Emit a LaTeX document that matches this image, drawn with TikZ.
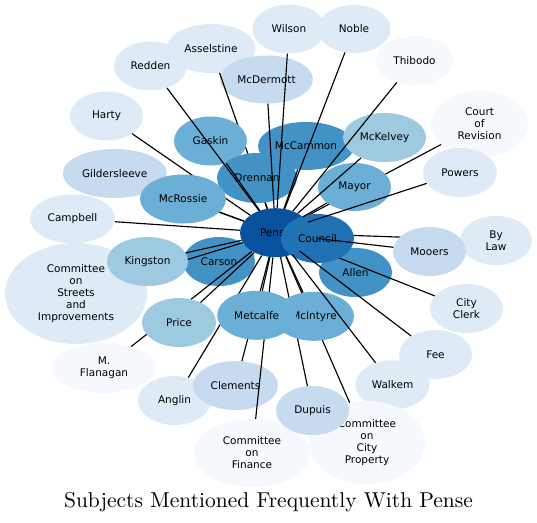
\documentclass[tikz,border=0pt]{standalone}
\usepackage{fontspec}
\newfontfamily\nodefont{DejaVu Sans}
\newfontfamily\titlefont{lmroman10-regular.otf}
\usetikzlibrary{shapes.geometric}
\definecolor{cD}{HTML}{08519C}
\definecolor{cK}{HTML}{2171B5}
\definecolor{cF}{HTML}{4292C6}
\definecolor{cM}{HTML}{6BAED6}
\definecolor{cS}{HTML}{9ECAE1}
\definecolor{cC}{HTML}{C6DBEF}
\definecolor{cL}{HTML}{DEEBF7}
\definecolor{cV}{HTML}{F5F9FE}
\tikzset{
  nd/.style={ellipse, inner sep=0pt, draw=none, align=center, text=black,
    font=\nodefont\fontsize{10.5}{12}\selectfont},
  sz/.style 2 args={minimum width=#1pt, minimum height=#2pt},
  ed/.style={draw=black, line width=1.15pt}
}
\begin{document}
\begin{tikzpicture}[x=1pt,y=-1pt]
\useasboundingbox (0,0) rectangle (537,522);
% ---- background / outer nodes
\node[nd, sz={72}{49}, fill=cL] (bylaw) at (496,240.5) {By\\Law};
\node[nd, sz={97}{66}, fill=cV] (court) at (479.5,124) {Court\\of\\Revision};
\node[nd, sz={74}{49}, fill=cL] (powers) at (460,172.5) {Powers};
\node[nd, sz={77}{49}, fill=cV] (thibodo) at (414.5,60.5) {Thibodo};
\node[nd, sz={73}{49}, fill=cL] (wilson) at (289,29) {Wilson};
\node[nd, sz={73}{48}, fill=cL] (noble) at (354,29) {Noble};
\node[nd, sz={73}{49}, fill=cL] (redden) at (150.5,66) {Redden};
\node[nd, sz={89}{49}, fill=cL] (asselstine) at (211,48.5) {Asselstine};
\node[nd, sz={93}{48}, fill=cC] (mcdermott) at (266.5,79.5) {McDermott};
\node[nd, sz={73}{49}, fill=cL] (harty) at (106.5,116) {Harty};
\node[nd, sz={104}{49}, fill=cC] (gildersleeve) at (114.7,173.5) {Gildersleeve};
\node[nd, sz={85}{49}, fill=cL] (campbell) at (72.5,218.8) {Campbell};
\node[nd, sz={142}{101}, fill=cL] (streets) at (76,293.5) {Committee\\on\\Streets\\and\\Improvements};
\node[nd, sz={104}{50}, fill=cV] (flanagan) at (104,368) {M.\\Flanagan};
\node[nd, sz={73}{49}, fill=cL] (fee) at (435.5,354.5) {Fee};
\node[nd, sz={74}{49}, fill=cL] (walkem) at (392.5,384.8) {Walkem};
\node[nd, sz={73}{49}, fill=cL] (cityclerk) at (466.5,308.5) {City\\Clerk};
\node[nd, sz={116}{83}, fill=cV] (property) at (367,442.5) {Committee\\on\\City\\Property};
\node[nd, sz={116}{68}, fill=cV] (finance) at (252,453) {Committee\\on\\Finance};
\node[nd, sz={73}{49}, fill=cC] (dupuis) at (312.5,410.5) {Dupuis};
\node[nd, sz={73}{49}, fill=cL] (anglin) at (174.5,400.5) {Anglin};
\node[nd, sz={85}{49}, fill=cC] (clements) at (235.5,385.5) {Clements};
\node[nd, sz={96}{48}, fill=cF] (mccammon) at (306,146) {McCammon};
\node[nd, sz={83}{49}, fill=cS] (mckelvey) at (384.5,137.5) {McKelvey};
\node[nd, sz={73}{49}, fill=cF] (allen) at (355.5,272.5) {Allen};
\node[nd, sz={72}{49}, fill=cF] (carson) at (219,261.5) {Carson};
\node[nd, sz={71}{49}, fill=cD] (pense) at (275.5,232.7) {Pense};
% ---- edges partly hidden by nodes drawn after them
\draw[ed] (asselstine) -- (pense);
\draw[ed] (harty) -- (pense);
\draw[ed] (gildersleeve) -- (pense);
\draw[ed] (court) -- (pense);
\draw[ed] (streets) -- (pense);
\draw[ed] (flanagan) -- (pense);
\draw[ed] (bylaw) -- (pense);
\draw[ed] (cityclerk) -- (pense);
\draw[ed] (finance) -- (pense);
\draw[ed] (clements) -- (pense);
\draw[ed] (anglin) -- (pense);
\draw[ed] (dupuis) -- (pense);
\draw[ed] (property) -- (pense);
% ---- nodes that cover those edges
\node[nd, sz={73}{49}, fill=cM] (gaskin) at (210.5,141) {Gaskin};
\node[nd, sz={80}{50}, fill=cF] (drennan) at (257,178) {Drennan};
\node[nd, sz={86}{49}, fill=cM] (mcrossie) at (183,199) {McRossie};
\node[nd, sz={73}{48}, fill=cM] (mayor) at (354.5,187) {Mayor};
\node[nd, sz={81}{49}, fill=cS] (kingston) at (147.5,261.5) {Kingston};
\node[nd, sz={74}{49}, fill=cS] (price) at (179,322.5) {Price};
\node[nd, sz={73}{49}, fill=cC] (mooers) at (429.5,251.5) {Mooers};
\node[nd, sz={80}{49}, fill=cM] (mcintyre) at (314,316.3) {McIntyre};
\node[nd, sz={79}{49}, fill=cM] (metcalfe) at (256.7,315.3) {Metcalfe};
\node[nd, sz={73}{49}, fill=cK] (council) at (317.5,238.5) {Council};
% ---- edges drawn on top
\draw[ed] (redden) -- (pense);
\draw[ed] (gaskin) -- (pense);
\draw[ed] (drennan) -- (pense);
\draw[ed] (wilson) -- (pense);
\draw[ed] (noble) -- (pense);
\draw[ed] (mcdermott) -- (pense);
\draw[ed] (thibodo) -- (pense);
\draw[ed] (mccammon) -- (pense);
\draw[ed] (mckelvey) -- (pense);
\draw[ed] (mayor) -- (pense);
\draw[ed] (powers) -- (pense);
\draw[ed] (council.center) -- (mooers);
\draw[ed] (fee) -- (pense);
\draw[ed] (walkem) -- (pense);
\draw[ed] (campbell) -- (pense);
\draw[ed] (kingston) -- (pense);
\draw[ed] (price) -- (pense);
\draw[ed] (metcalfe) -- (pense);
\draw[ed] (mcintyre) -- (pense);
\draw[ed] (mcrossie) -- (pense);
% ---- title
\node[anchor=base, inner sep=0pt, font=\titlefont\fontsize{21.5}{24}\selectfont] (title) at (268.5,507) {Subjects Mentioned Frequently With Pense};
\end{tikzpicture}
\end{document}
